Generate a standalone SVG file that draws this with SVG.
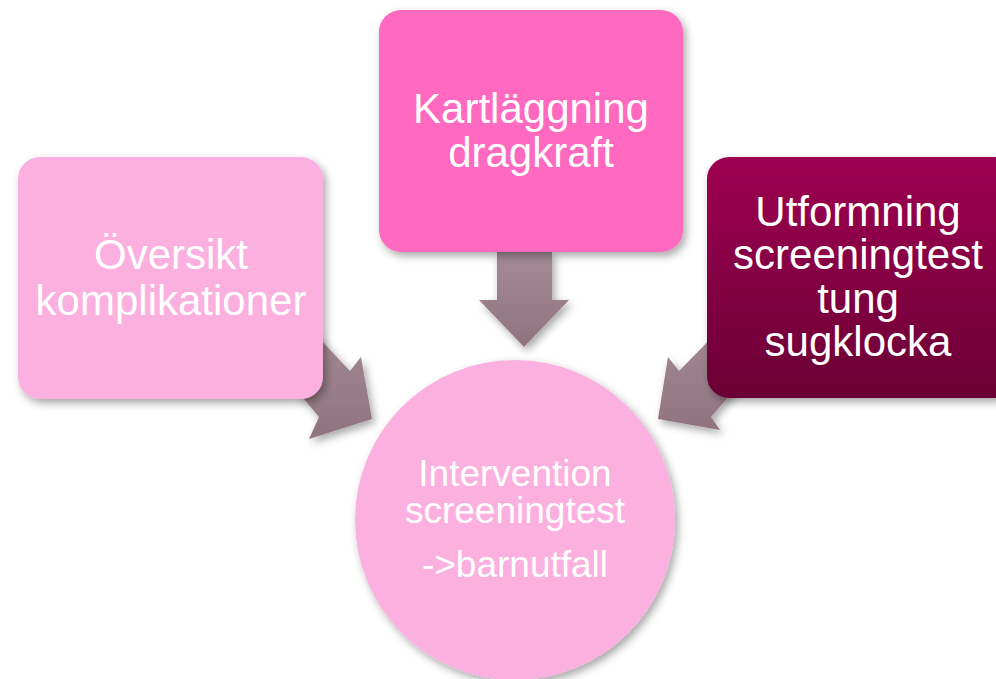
<svg xmlns="http://www.w3.org/2000/svg" width="996" height="679" viewBox="0 0 996 679">
<defs>
<filter id="sh" x="-20%" y="-20%" width="140%" height="140%">
<feDropShadow dx="3" dy="4" stdDeviation="4" flood-color="#000" flood-opacity="0.35"/>
</filter>
<linearGradient id="dark" x1="0" y1="0" x2="0" y2="1">
<stop offset="0" stop-color="#9E0052"/>
<stop offset="1" stop-color="#6A0034"/>
</linearGradient>
<linearGradient id="arr" x1="0" y1="0" x2="0" y2="1">
<stop offset="0" stop-color="#A58B96"/>
<stop offset="1" stop-color="#8F7480"/>
</linearGradient>
</defs>
<style>
text{font-family:"Liberation Sans",Arial,sans-serif;fill:#fff;text-anchor:middle}
.big{font-size:42px}
.mid{font-size:37px}
.arrow{fill:url(#arr);filter:url(#sh)}
</style>
<rect width="996" height="679" fill="#fff"/>
<g id="connectors">
<polygon class="arrow" points="497,252 552,252 552,300 569,300 524,347 479,300 497,300"/>
<polygon class="arrow" points="300,318 350,371 361,357 372,419 309,439 319,417 280,370"/>
<polygon class="arrow" points="731,318 679,371 668,357 658,419 720,430 711,417 750,372"/>
</g>
<g id="left">
<rect x="18" y="157" width="305" height="242" rx="22" fill="#FBB0DF" filter="url(#sh)"/>
<text class="big" x="171" y="269">Översikt</text>
<text class="big" x="171" y="315">komplikationer</text>
</g>
<g id="top">
<rect x="379" y="10" width="304" height="242" rx="22" fill="#FF69C0" filter="url(#sh)"/>
<text class="big" x="531" y="123">Kartläggning</text>
<text class="big" x="531" y="167">dragkraft</text>
</g>
<g id="right">
<rect x="707" y="157" width="310" height="241" rx="22" fill="url(#dark)" filter="url(#sh)"/>
<text class="big" x="858" y="226">Utformning</text>
<text class="big" x="858" y="269">screeningtest</text>
<text class="big" x="858" y="313">tung</text>
<text class="big" x="858" y="356">sugklocka</text>
</g>
<g id="center">
<circle cx="515" cy="520" r="160" fill="#FBB0DF" filter="url(#sh)"/>
<text class="mid" x="515" y="486">Intervention</text>
<text class="mid" x="515" y="523">screeningtest</text>
<text class="mid" x="515" y="577">-&gt;barnutfall</text>
</g>
</svg>
